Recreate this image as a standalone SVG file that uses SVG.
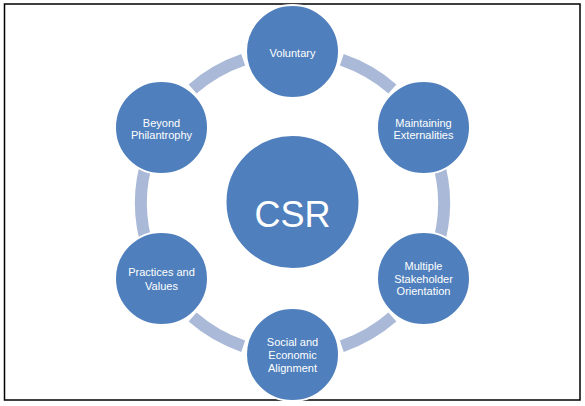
<svg xmlns="http://www.w3.org/2000/svg" width="585" height="406" viewBox="0 0 585 406">
<style>
.node{fill:#4f7fbc;stroke:#ffffff;stroke-width:2}
.lbl{font-family:"Liberation Sans",Arial,sans-serif;font-size:11px;fill:#ffffff;text-anchor:middle}
.big{font-family:"Liberation Sans",Arial,sans-serif;font-size:36px;fill:#ffffff;text-anchor:middle}
.arc{fill:none;stroke:#a9b9d7;stroke-width:12}
</style>
<rect x="0" y="0" width="585" height="406" fill="#ffffff"/>
<rect x="4.5" y="4" width="575.5" height="396" fill="none" stroke="#000000" stroke-width="1.5"/>
<g id="connectors">
<path class="arc" d="M 341.8 59.8 A 151.5 151.5 0 0 1 392.4 89.0"/>
<path class="arc" d="M 436.6 156.3 A 151.5 151.5 0 0 1 436.6 249.7"/>
<path class="arc" d="M 392.4 317.0 A 151.5 151.5 0 0 1 341.8 346.2"/>
<path class="arc" d="M 243.2 346.2 A 151.5 151.5 0 0 1 192.6 317.0"/>
<path class="arc" d="M 148.4 249.7 A 151.5 151.5 0 0 1 148.4 156.3"/>
<path class="arc" d="M 192.6 89.0 A 151.5 151.5 0 0 1 243.2 59.8"/>
</g>
<g id="csr">
<circle class="node" cx="292.5" cy="202" r="67"/>
<text class="big" x="292.5" y="227">CSR</text>
</g>
<g id="voluntary">
<circle class="node" cx="292.5" cy="51.5" r="46.5"/>
<text class="lbl" x="292.5" y="56.5">Voluntary</text>
</g>
<g id="maintaining">
<circle class="node" cx="423.5" cy="127.5" r="46.5"/>
<text class="lbl" x="423.5" y="126.5">Maintaining</text>
<text class="lbl" x="423.5" y="139">Externalities</text>
</g>
<g id="multiple">
<circle class="node" cx="423.5" cy="278.5" r="46.5"/>
<text class="lbl" x="423.5" y="270">Multiple</text>
<text class="lbl" x="423.5" y="282.7">Stakeholder</text>
<text class="lbl" x="423.5" y="295.4">Orientation</text>
</g>
<g id="social">
<circle class="node" cx="292.5" cy="354.5" r="46.5"/>
<text class="lbl" x="292.5" y="345.5">Social and</text>
<text class="lbl" x="292.5" y="358.5">Economic</text>
<text class="lbl" x="292.5" y="371.5">Alignment</text>
</g>
<g id="practices">
<circle class="node" cx="161.5" cy="278.5" r="46.5"/>
<text class="lbl" x="161.5" y="276">Practices and</text>
<text class="lbl" x="161.5" y="289.5">Values</text>
</g>
<g id="beyond">
<circle class="node" cx="161.5" cy="127.5" r="46.5"/>
<text class="lbl" x="161.5" y="126.5">Beyond</text>
<text class="lbl" x="161.5" y="139">Philantrophy</text>
</g>
</svg>
